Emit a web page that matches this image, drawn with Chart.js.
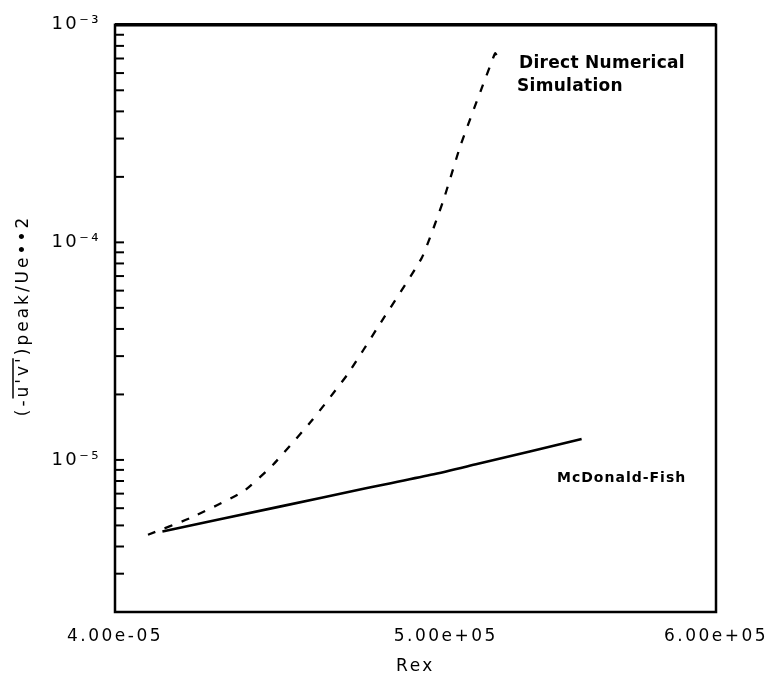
<!DOCTYPE html>
<html>
<head>
<meta charset="utf-8">
<script src="https://cdn.jsdelivr.net/npm/chart.js@4.4.1/dist/chart.umd.min.js"></script>
<style>
  html, body { margin: 0; padding: 0; background: #fff; }
  canvas { display: block; }
</style>
</head>
<body>
<canvas id="chart" width="776" height="679"></canvas>
<script>
// axis ticks
const xTickValues = [4e5, 5e5, 6e5]
const xTickLabels = ['4.00e-05', '5.00e+05', '6.00e+05']
const yMajorValues = [1e-5, 1e-4, 1e-3]
const yMajorLabels = ['10⁻⁵', '10⁻⁴', '10⁻³']
const yMinorValues = [
  2e-6, 3e-6, 4e-6, 5e-6, 6e-6, 7e-6, 8e-6, 9e-6,
  2e-5, 3e-5, 4e-5, 5e-5, 6e-5, 7e-5, 8e-5, 9e-5,
  2e-4, 3e-4, 4e-4, 5e-4, 6e-4, 7e-4, 8e-4, 9e-4
]

// Direct Numerical Simulation (dashed)
const dnsRe = [4.09e5, 4.21e5, 4.36e5, 4.45e5, 4.57e5, 4.68e5, 4.78e5, 4.92e5, 4.99e5, 5.05e5, 5.12e5, 5.16e5, 5.17e5, 5.19e5]
const dnsUV = [4.53e-6, 5.42e-6, 7.13e-6, 9.5e-6, 1.53e-5, 2.48e-5, 4.16e-5, 8.5e-5, 1.53e-4, 2.79e-4, 5.0e-4, 6.9e-4, 7.4e-4, 6.6e-4]

// McDonald-Fish (solid)
const mfRe = [4.13e5, 4.47e5, 4.73e5, 4.95e5, 5.11e5, 5.48e5]
const mfUV = [4.69e-6, 6.1e-6, 7.37e-6, 8.54e-6, 9.6e-6, 1.247e-5]

const FONT = 'DejaVu Sans'

const framePlugin = {
  id: 'frame',
  beforeDraw: chart => { chart.ctx.letterSpacing = '2.5px' },
  afterDraw: chart => {
    const { ctx, chartArea: a, scales } = chart
    ctx.save()
    ctx.letterSpacing = '0px'
    ctx.strokeStyle = '#000'
    ctx.lineWidth = 2.5
    ctx.strokeRect(a.left, a.top, a.right - a.left, a.bottom - a.top)
    ctx.lineWidth = 3.5
    ctx.beginPath()
    ctx.moveTo(a.left, a.top)
    ctx.lineTo(a.right, a.top)
    ctx.stroke()

    // inward ticks on the left side
    ctx.lineWidth = 2
    yMajorValues.concat(yMinorValues).forEach(v => {
      const py = scales.y.getPixelForValue(v)
      ctx.beginPath()
      ctx.moveTo(a.left, py)
      ctx.lineTo(a.left + 9, py)
      ctx.stroke()
    })

    // curve labels
    ctx.fillStyle = '#000'
    ctx.textAlign = 'left'
    ctx.textBaseline = 'alphabetic'
    ctx.font = `bold 17px "${FONT}"`
    ctx.letterSpacing = '0.3px'
    ctx.fillText('Direct Numerical', a.left + 404, a.top + 43)
    ctx.fillText('Simulation', a.left + 402, a.top + 66)
    ctx.font = `bold 14px "${FONT}"`
    ctx.letterSpacing = '1px'
    ctx.fillText('McDonald-Fish', a.left + 442, a.top + 457)

    // y axis title with overline
    ctx.font = `17px "${FONT}"`
    ctx.letterSpacing = '3px'
    const parts = ['(-', "u'v'", ')peak/Ue••2']
    const widths = parts.map(p => ctx.measureText(p).width)
    const total = widths.reduce((s, w) => s + w, 0)
    ctx.translate(24, (a.top + a.bottom) / 2 - 3)
    ctx.rotate(-Math.PI / 2)
    ctx.textBaseline = 'middle'
    let px = -total / 2
    parts.forEach((p, i) => {
      ctx.fillText(p, px, 0)
      if (i === 1) {
        ctx.lineWidth = 1.5
        ctx.beginPath()
        ctx.moveTo(px - 1, -11)
        ctx.lineTo(px + widths[i] - 3, -11)
        ctx.stroke()
      }
      px += widths[i]
    })
    ctx.restore()
  }
}

new Chart(document.getElementById('chart'), {
  type: 'line',
  data: {
    datasets: [
      {
        label: 'Direct Numerical Simulation',
        data: dnsRe.map((x, i) => ({ x, y: dnsUV[i] })),
        borderColor: '#000',
        borderWidth: 2.3,
        borderDash: [8, 10],
        pointRadius: 0,
        tension: 0.15,
        fill: false
      },
      {
        label: 'McDonald-Fish',
        data: mfRe.map((x, i) => ({ x, y: mfUV[i] })),
        borderColor: '#000',
        borderWidth: 2.6,
        pointRadius: 0,
        tension: 0.3,
        fill: false
      }
    ]
  },
  options: {
    responsive: false,
    animation: false,
    layout: { padding: { top: 21, right: 60, left: 0, bottom: 0 } },
    plugins: { legend: { display: false }, tooltip: { enabled: false } },
    scales: {
      x: {
        type: 'logarithmic',
        min: 4e5,
        max: 6e5,
        grid: { display: false, drawTicks: false },
        border: { display: false },
        afterBuildTicks: s => { s.ticks = xTickValues.map(value => ({ value })) },
        afterFit: s => { s.height = 67 },
        ticks: {
          autoSkip: false,
          maxRotation: 0,
          minRotation: 0,
          padding: 14,
          color: '#000',
          font: { family: FONT, size: 17 },
          callback: (v, i) => xTickLabels[i]
        },
        title: {
          display: true,
          text: 'Rex',
          color: '#000',
          font: { family: FONT, size: 17 },
          padding: { top: 0, bottom: 2 }
        }
      },
      y: {
        type: 'logarithmic',
        min: 2e-6,
        max: 1e-3,
        grid: { display: false, drawTicks: false },
        border: { display: false },
        afterBuildTicks: s => { s.ticks = yMajorValues.map(value => ({ value })) },
        afterFit: s => { s.width = 115 },
        ticks: {
          autoSkip: false,
          padding: 14,
          color: '#000',
          font: { family: FONT, size: 18 },
          callback: (v, i) => yMajorLabels[i]
        }
      }
    }
  },
  plugins: [framePlugin]
})
</script>
</body>
</html>
